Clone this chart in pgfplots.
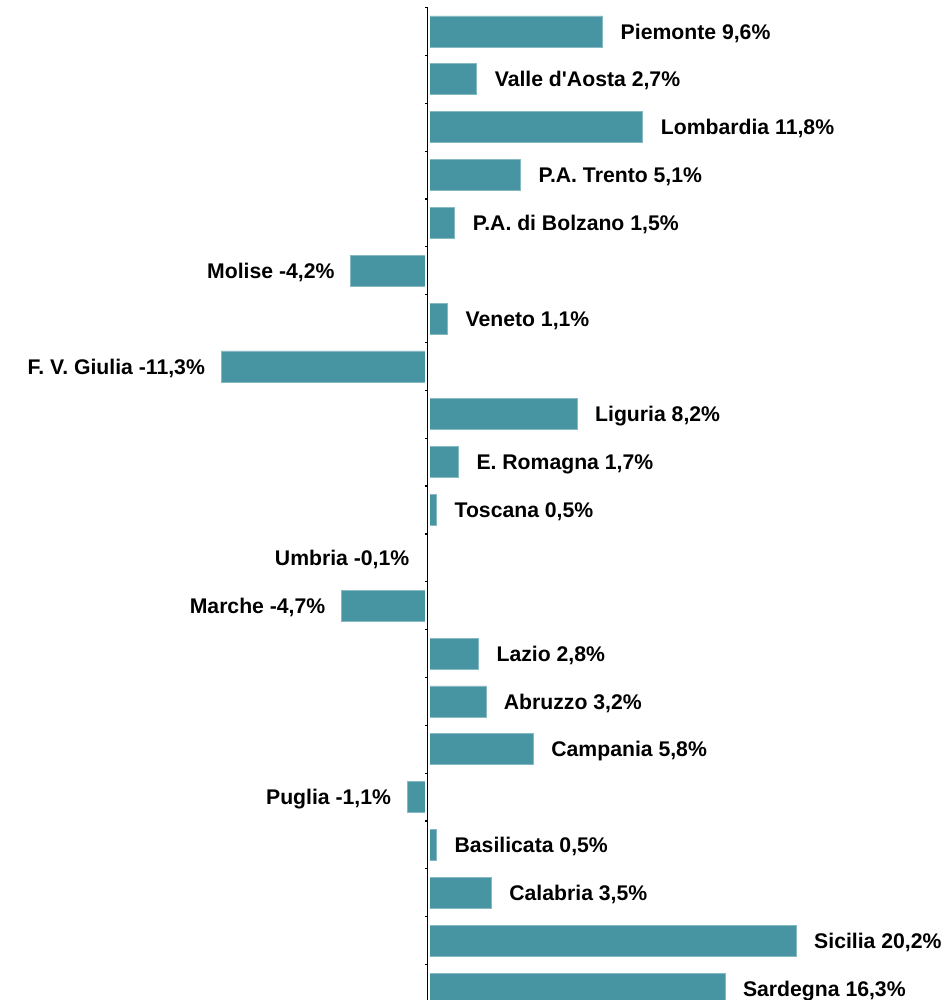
\documentclass[border=0pt]{standalone}
\usepackage{fontspec}
\setmainfont{Liberation Sans}
\usepackage{pgfplots}
\pgfplotsset{compat=1.18}
\usepackage{pgfplotstable}
\definecolor{barc}{RGB}{71,148,163}
\pgfplotstableread[col sep=semicolon]{
idx;val;lab
0;9.6;Piemonte 9,6
1;2.7;Valle d\textquotesingle Aosta 2,7
2;11.8;Lombardia 11,8
3;5.1;P.A. Trento 5,1
4;1.5;P.A. di Bolzano 1,5
6;1.1;Veneto 1,1
8;8.2;Liguria 8,2
9;1.7;E. Romagna 1,7
10;0.5;Toscana 0,5
13;2.8;Lazio 2,8
14;3.2;Abruzzo 3,2
15;5.8;Campania 5,8
17;0.5;Basilicata 0,5
18;3.5;Calabria 3,5
19;20.2;Sicilia 20,2
20;16.3;Sardegna 16,3
}\postable
\pgfplotstableread[col sep=semicolon]{
idx;val;lab
5;-4.2;Molise -4,2
7;-11.3;F. V. Giulia -11,3
11;-0.1;Umbria -0,1
12;-4.7;Marche -4,7
16;-1.1;Puglia -1,1
}\negtable
\begin{document}
\begin{tikzpicture}
\begin{axis}[
  scale only axis, width=475.5pt, height=500pt,
  xmin=-23.42, xmax=28.68, ymin=-0.658, ymax=20.24,
  y dir=reverse,
  axis lines=none,
  xbar, bar width=0.648, bar shift=0pt,
  point meta=explicit symbolic,
  nodes near coords={\pgfplotspointmeta\%},
  every node near coord/.append style={font=\fontsize{10.6}{12}\selectfont\bfseries, text=black, inner xsep=8.8pt, inner ysep=0pt, text height=7.59pt, text depth=0pt},
]
\addplot[fill=barc, draw=barc!65!white, line width=0.4pt,
  every node near coord/.append style={anchor=west}] table[x=val,y=idx,meta=lab]{\postable};
\addplot[fill=barc, draw=barc!65!white, line width=0.4pt,
  every node near coord/.append style={anchor=east, inner xsep=8pt}] table[x=val,y=idx,meta=lab]{\negtable};
\draw[white, line width=2.25pt] (axis cs:0,-0.6) -- (axis cs:0,21);
\draw[black, line width=0.65pt] (axis cs:0,-0.5) -- (axis cs:0,21);
\pgfplotsinvokeforeach{-0.5,0.5,...,20.5}{
  \draw[black, line width=0.6pt] (axis cs:0,#1) -- ++(-1.3pt,0pt);
}
\coordinate (A) at (rel axis cs:0,0);
\coordinate (B) at (rel axis cs:1,1);
\end{axis}
\pgfresetboundingbox
\path[use as bounding box] (A) rectangle (B);
\end{tikzpicture}
\end{document}
